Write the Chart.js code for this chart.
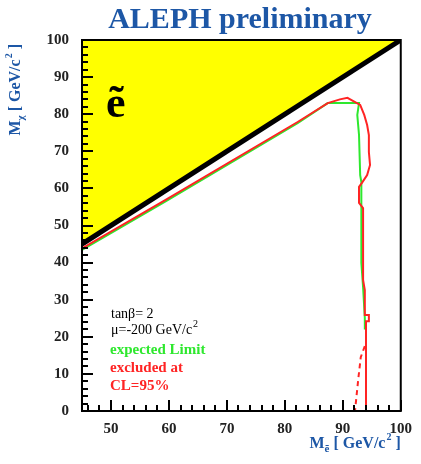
<!DOCTYPE html>
<html>
<head>
<meta charset="utf-8">
<script src="https://cdn.jsdelivr.net/npm/chart.js@4/dist/chart.umd.min.js"></script>
<style>
  html, body { margin: 0; padding: 0; background: #fff; }
  #wrap { width: 421px; height: 464px; }
</style>
</head>
<body>
<div id="wrap"><canvas id="c" width="421" height="464"></canvas></div>
<script>
// Selectron mass (x) vs neutralino mass (y), GeV/c^2
const xRange = [45, 100];
const yRange = [0, 100];
const majorTicks = [50, 60, 70, 80, 90, 100];

// kinematic boundary M_chi = M_selectron
const kinX = [45, 100];
const kinY = [45, 100];

// observed exclusion contour at 95% CL
const obsX = [45, 59.5, 82.2, 87.4, 89.5, 90.8, 93.0, 93.7, 94.2, 94.5, 94.5, 94.7, 94.2, 93.3, 92.8, 92.8, 93.5, 93.5, 93.8, 93.8, 94.5, 94.5, 94.0, 94.0];
const obsY = [43.8, 57.0, 77.9, 83.0, 84.0, 84.4, 82.5, 79.8, 77.1, 74.4, 69.8, 66.3, 63.6, 61.5, 60.4, 56.1, 54.7, 35.3, 32.6, 25.9, 25.9, 24.2, 24.2, 0];

// expected limit
const expX = [45, 59.5, 82.2, 87.4, 92.8, 92.5, 92.8, 93.0, 93.2, 93.2, 93.5, 93.8, 93.8];
const expY = [43.4, 56.6, 77.6, 83.0, 83.0, 79.8, 74.4, 63.6, 61.7, 40.0, 33.4, 25.0, 22.0];

// secondary (dashed) contour near the bottom
const dashX = [93.8, 93.1, 92.7, 92.1];
const dashY = [17.5, 14.5, 9.0, 0];

const pts = (xs, ys) => xs.map((x, i) => ({ x: x, y: ys[i] }));

const BLUE = '#1d57a6';
const RED = '#ff2424';
const GREEN = '#2ee82e';
const SERIF = '"Liberation Serif", "DejaVu Serif", serif';

const frameAndText = {
  id: 'frameAndText',
  afterDatasetsDraw(chart) {
    const ctx = chart.ctx;
    const a = chart.chartArea;
    const xs = chart.scales.x, ys = chart.scales.y;
    ctx.save();
    // tick marks pointing into the frame
    ctx.strokeStyle = '#000';
    ctx.lineWidth = 2;
    for (let v = 46; v <= 100; v += 2) {
      const px = Math.round(xs.getPixelForValue(v));
      const len = (v % 10 === 0) ? 11 : 6;
      ctx.beginPath(); ctx.moveTo(px, a.bottom); ctx.lineTo(px, a.bottom - len); ctx.stroke();
    }
    for (let v = 2; v <= 100; v += 2) {
      const py = Math.round(ys.getPixelForValue(v));
      const len = (v % 10 === 0) ? 11 : 6;
      ctx.beginPath(); ctx.moveTo(a.left, py); ctx.lineTo(a.left + len, py); ctx.stroke();
    }
    // frame
    ctx.lineWidth = 2;
    ctx.strokeRect(a.left, a.top, a.right - a.left, a.bottom - a.top);

    // title
    ctx.fillStyle = BLUE;
    ctx.font = 'bold 30px ' + SERIF;
    ctx.textAlign = 'center';
    ctx.textBaseline = 'alphabetic';
    ctx.fillText('ALEPH preliminary', 240, 28);

    // big particle label
    ctx.fillStyle = '#000';
    ctx.font = 'bold 44px ' + SERIF;
    ctx.textAlign = 'left';
    ctx.fillText('\u1EBD', 106, 117);

    // parameter block and legend
    ctx.font = '14px ' + SERIF;
    ctx.fillStyle = '#000';
    ctx.fillText('tan\u03B2= 2', 111, 318);
    const muText = '\u03BC=-200 GeV/c';
    ctx.fillText(muText, 111, 334);
    const muW = ctx.measureText(muText).width;
    ctx.font = '10px ' + SERIF;
    ctx.fillText('2', 111 + muW + 1, 327);
    ctx.font = 'bold 15px ' + SERIF;
    ctx.fillStyle = GREEN;
    ctx.fillText('expected Limit', 110, 354);
    ctx.fillStyle = RED;
    ctx.fillText('excluded at', 110, 372);
    ctx.fillText('CL=95%', 110, 390);

    // axis titles: M_sub [ GeV/c^2 ]
    const drawTitle = (x, y, sub, paint) => {
      ctx.fillStyle = BLUE;
      ctx.textAlign = 'left';
      let cx = x;
      const put = (t, font, dx, dy) => {
        ctx.font = font;
        if (paint) ctx.fillText(t, cx + dx, y + dy);
        cx += ctx.measureText(t).width + dx;
      };
      put('M', 'bold 16px ' + SERIF, 0, 0);
      put(sub, 'bold 11px ' + SERIF, 0, 4);
      put(' [ GeV/c', 'bold 16px ' + SERIF, 0, 0);
      put('2', 'bold 10px ' + SERIF, 1, -8);
      put(' ]', 'bold 16px ' + SERIF, 0, 0);
      return cx - x;
    };
    const wX = drawTitle(0, 0, '\u1EBD', false);
    drawTitle(a.right - wX, 448, '\u1EBD', true);
    const wY = drawTitle(0, 0, '\u03C7', false);
    ctx.translate(20, 44 + wY);
    ctx.rotate(-Math.PI / 2);
    drawTitle(0, 0, '\u03C7', true);
    ctx.restore();
  }
};

new Chart(document.getElementById('c'), {
  type: 'scatter',
  data: {
    datasets: [
      {
        data: pts(kinX, kinY), showLine: true, fill: 'end',
        backgroundColor: '#ffff00', borderColor: '#000', borderWidth: 5,
        pointRadius: 0, tension: 0, order: 4
      },
      {
        data: pts(expX, expY), showLine: true, fill: false,
        borderColor: GREEN, borderWidth: 2, pointRadius: 0, tension: 0, order: 3
      },
      {
        data: pts(obsX, obsY), showLine: true, fill: false,
        borderColor: RED, borderWidth: 2, pointRadius: 0, tension: 0, order: 2
      },
      {
        data: pts(dashX, dashY), showLine: true, fill: false,
        borderColor: RED, borderWidth: 2, borderDash: [5, 4], pointRadius: 0, tension: 0, order: 1
      }
    ]
  },
  options: {
    responsive: false,
    animation: false,
    events: [],
    layout: { padding: { left: 10, right: 17, top: 40, bottom: 0 } },
    plugins: { legend: { display: false }, tooltip: { enabled: false }, title: { display: false } },
    scales: {
      x: {
        type: 'linear', min: xRange[0], max: xRange[1],
        afterFit: (s) => { s.height = 53; },
        afterBuildTicks: (s) => { s.ticks = majorTicks.map(v => ({ value: v })); },
        grid: { display: false, drawTicks: false },
        border: { display: false },
        ticks: { padding: 9, color: '#222', font: { family: SERIF, size: 15, weight: 'bold' } }
      },
      y: {
        type: 'linear', min: yRange[0], max: yRange[1],
        afterFit: (s) => { s.width = 72; },
        grid: { display: false, drawTicks: false },
        border: { display: false },
        ticks: { stepSize: 10, padding: 13, color: '#222', font: { family: SERIF, size: 15, weight: 'bold' } }
      }
    }
  },
  plugins: [frameAndText]
});
</script>
</body>
</html>
